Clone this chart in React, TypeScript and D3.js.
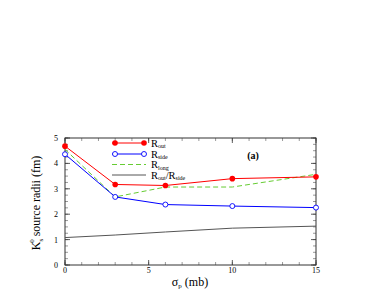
import React from "react";
import * as d3 from "d3";

const sigma = [0, 3, 6, 10, 15];
const rOut = [4.68, 3.17, 3.13, 3.4, 3.47];
const rSide = [4.36, 2.68, 2.38, 2.32, 2.26];
const rLong = [4.55, 2.68, 3.07, 3.07, 3.57];
const rRatio = [1.08, 1.18, 1.3, 1.45, 1.53];
const xTicks = [0, 5, 10, 15];
const yTicks = [0, 1, 2, 3, 4, 5];

export default function App() {
  const W = 382, H = 299;
  const x = d3.scaleLinear().domain([0, 15]).range([65, 316]);
  const y = d3.scaleLinear().domain([0, 5]).range([265, 138]);
  const line = (vals: number[]) =>
    d3.line<number>().x((_, i) => x(sigma[i])).y((v) => y(v))(vals) as string;
  const font = "'Liberation Serif', 'Times New Roman', Times, serif";
  const xMinor = d3.range(0, 15.01, 1);
  const yMinor = d3.range(0, 5.01, 0.25);
  const legend = [
    { c: "#ff0000", dash: "", marker: "fill", sub: "out", ly: 143 },
    { c: "#0000ff", dash: "", marker: "open", sub: "side", ly: 154 },
    { c: "#66cc33", dash: "5,3", marker: "", sub: "long", ly: 164.5 },
    { c: "#555555", dash: "", marker: "", sub: "ratio", ly: 175 },
  ];
  return (
    <svg width={W} height={H} style={{ position: "absolute", left: 0, top: 0, fontFamily: font }}>
      <rect x={0} y={0} width={W} height={H} fill="#fff" />
      {xMinor.map((t) => (
        <g key={"xm" + t}>
          <line x1={x(t)} x2={x(t)} y1={265} y2={262} stroke="#555" strokeWidth={0.6} />
          <line x1={x(t)} x2={x(t)} y1={138} y2={141} stroke="#555" strokeWidth={0.6} />
        </g>
      ))}
      {yMinor.map((t) => (
        <g key={"ym" + t}>
          <line x1={65} x2={68} y1={y(t)} y2={y(t)} stroke="#555" strokeWidth={0.6} />
          <line x1={316} x2={313} y1={y(t)} y2={y(t)} stroke="#555" strokeWidth={0.6} />
        </g>
      ))}
      {xTicks.map((t) => (
        <g key={"x" + t}>
          <line x1={x(t)} x2={x(t)} y1={265} y2={260} stroke="#333" strokeWidth={0.8} />
          <line x1={x(t)} x2={x(t)} y1={138} y2={143} stroke="#333" strokeWidth={0.8} />
          <text x={x(t)} y={273} fontSize={8} textAnchor="middle">{t}</text>
        </g>
      ))}
      {yTicks.map((t) => (
        <g key={"y" + t}>
          <line x1={65} x2={70} y1={y(t)} y2={y(t)} stroke="#333" strokeWidth={0.8} />
          <line x1={316} x2={311} y1={y(t)} y2={y(t)} stroke="#333" strokeWidth={0.8} />
          <text x={58} y={y(t) + 3} fontSize={8} textAnchor="end">{t}</text>
        </g>
      ))}
      <rect x={65} y={138} width={251} height={127} fill="none" stroke="#333" strokeWidth={1} />
      <path d={line(rRatio)} fill="none" stroke="#555" strokeWidth={1} />
      <path d={line(rLong)} fill="none" stroke="#66cc33" strokeWidth={1} strokeDasharray="5,3" />
      <path d={line(rSide)} fill="none" stroke="#0000ff" strokeWidth={1} />
      <path d={line(rOut)} fill="none" stroke="#ff0000" strokeWidth={1} />
      {rSide.map((v, i) => (
        <circle key={"s" + i} cx={x(sigma[i])} cy={y(v)} r={2.5} fill="#fff" stroke="#0000ff" strokeWidth={0.9} />
      ))}
      {rOut.map((v, i) => (
        <circle key={"o" + i} cx={x(sigma[i])} cy={y(v)} r={2.8} fill="#ff0000" />
      ))}
      {legend.map((l, i) => {
        const ly = l.ly;
        return (
          <g key={"l" + i}>
            <line x1={112} x2={146} y1={ly} y2={ly} stroke={l.c} strokeWidth={1} strokeDasharray={l.dash || undefined} />
            {l.marker === "fill" && (
              <>
                <circle cx={115} cy={ly} r={2.8} fill={l.c} />
                <circle cx={144} cy={ly} r={2.8} fill={l.c} />
              </>
            )}
            {l.marker === "open" && (
              <>
                <circle cx={115} cy={ly} r={2.5} fill="#fff" stroke={l.c} strokeWidth={0.9} />
                <circle cx={144} cy={ly} r={2.5} fill="#fff" stroke={l.c} strokeWidth={0.9} />
              </>
            )}
            <text x={151} y={ly + 3.5} fontSize={10.5}>
              R
              {l.sub === "ratio" ? (
                <>
                  <tspan fontSize={6} dy={1.5}>out</tspan>
                  <tspan dy={-1.5}>/R</tspan>
                  <tspan fontSize={6} dy={1.5}>side</tspan>
                </>
              ) : (
                <tspan fontSize={6} dy={1.5}>{l.sub}</tspan>
              )}
            </text>
          </g>
        );
      })}
      <text x={253} y={159} fontSize={10} textAnchor="middle" fontWeight="bold">(a)</text>
      <text x={190} y={286} fontSize={12} textAnchor="middle">
        σ<tspan fontSize={7} dy={2}>p</tspan>
        <tspan dy={-2}> (mb)</tspan>
      </text>
      <text transform={`translate(40,${203}) rotate(-90)`} fontSize={12} textAnchor="middle">
        K<tspan fontSize={7} dy={3}>s</tspan>
        <tspan fontSize={7} dx={-4} dy={-9}>0</tspan>
        <tspan dy={6}> source radii (fm)</tspan>
      </text>
    </svg>
  );
}
